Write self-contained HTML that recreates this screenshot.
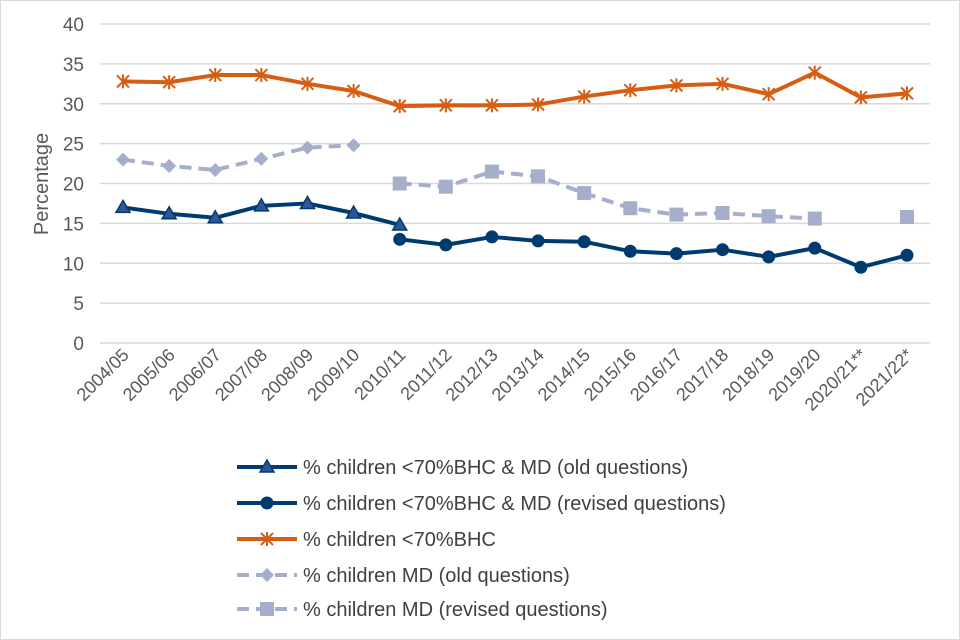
<!DOCTYPE html>
<html><head><meta charset="utf-8"><style>
body{margin:0;background:#fff}
svg{display:block;font-family:"Liberation Sans",sans-serif}
</style></head><body>
<svg id="c" width="960" height="640">
<rect x="0.5" y="0.5" width="959" height="639" fill="#fff" stroke="#d9d9d9"/>
<g id="grid"></g><g id="axes"></g><g id="series"></g><g id="legend"></g>
</svg>
<script>
const categories=["2004/05","2005/06","2006/07","2007/08","2008/09","2009/10","2010/11","2011/12","2012/13","2013/14","2014/15","2015/16","2016/17","2017/18","2018/19","2019/20","2020/21**","2021/22*"];
const yTicks=[0,5,10,15,20,25,30,35,40];
const bhc=[32.8,32.7,33.6,33.6,32.5,31.6,29.7,29.8,29.8,29.9,30.9,31.7,32.3,32.5,31.2,33.9,30.8,31.3];
const mdOld=[23.0,22.2,21.7,23.1,24.5,24.8,null,null,null,null,null,null,null,null,null,null,null,null];
const mdNew=[null,null,null,null,null,null,20.0,19.6,21.5,20.9,18.8,16.9,16.1,16.3,15.9,15.6,null,15.8];
const lowOld=[17.0,16.2,15.7,17.2,17.5,16.3,14.8,null,null,null,null,null,null,null,null,null,null,null];
const lowNew=[null,null,null,null,null,null,13.0,12.3,13.3,12.8,12.7,11.5,11.2,11.7,10.8,11.9,9.5,11.0];
const legendLabels=["% children <70%BHC & MD (old questions)","% children <70%BHC & MD (revised questions)","% children <70%BHC","% children MD (old questions)","% children MD (revised questions)"];
const NS="http://www.w3.org/2000/svg";
const x=i=>123+i*(907-123)/(categories.length-1);
const y=v=>343-v*(343-24)/40;
function mk(tag,attrs,parent){const e=document.createElementNS(NS,tag);for(const k in attrs)e.setAttribute(k,attrs[k]);parent.appendChild(e);return e;}
const G=document.getElementById('grid'),A=document.getElementById('axes'),S=document.getElementById('series'),L=document.getElementById('legend');
yTicks.forEach(t=>{
 const l=mk('line',{x1:100,x2:930,y1:y(t),y2:y(t),stroke:'#d9d9d9','stroke-width':1.5},G);
 
 
 const tx=mk('text',{x:84,y:y(t)+7,'text-anchor':'end','font-size':19,fill:'#595959'},A);
 tx.textContent=t;
 
 
});
categories.forEach((c,i)=>{
 const tx=mk('text',{x:x(i)+7,y:356,'text-anchor':'end','font-size':18,fill:'#595959',transform:`rotate(-45 ${x(i)+7} 356)`},A);
 tx.textContent=c;
 
 
});
const yt=mk('text',{x:48,y:184,'text-anchor':'middle','font-size':20,fill:'#595959',transform:'rotate(-90 48 184)'},A);
yt.textContent='Percentage';


function marker(type,cx,cy,col,g){
 if(type==='tri')return mk('path',{d:`M${cx} ${cy-7}L${cx+7} ${cy+5}L${cx-7} ${cy+5}Z`,fill:'#2e5597',stroke:col,'stroke-width':1.5},g);
 if(type==='circ')return mk('circle',{cx,cy,r:6.5,fill:col},g);
 if(type==='dia')return mk('path',{d:`M${cx} ${cy-7}L${cx+7} ${cy}L${cx} ${cy+7}L${cx-7} ${cy}Z`,fill:col},g);
 if(type==='sq')return mk('rect',{x:cx-7,y:cy-7,width:14,height:14,fill:col},g);
 if(type==='star')return mk('path',{d:`M${cx-6} ${cy-6}L${cx+6} ${cy+6}M${cx+6} ${cy-6}L${cx-6} ${cy+6}M${cx} ${cy-7}L${cx} ${cy+7}`,stroke:col,'stroke-width':2,fill:'none'},g);
}
const defs=[
 {data:lowOld,col:'#003b6f',m:'tri',dash:null,name:'series-low-income-md-old'},
 {data:lowNew,col:'#003b6f',m:'circ',dash:null,name:'series-low-income-md-revised'},
 {data:bhc,col:'#d55e14',m:'star',dash:null,name:'series-low-income-bhc'},
 {data:mdOld,col:'#a5afcc',m:'dia',dash:'12 7',name:'series-md-old'},
 {data:mdNew,col:'#a5afcc',m:'sq',dash:'12 7',name:'series-md-revised'}];
defs.forEach(s=>{
 const g=mk('g',{},S);
 
 
 let d='',pen=false;
 s.data.forEach((v,i)=>{if(v==null){pen=false;return;}d+=(pen?'L':'M')+x(i)+' '+y(v);pen=true;});
 const p=mk('path',{d,fill:'none',stroke:s.col,'stroke-width':4,'stroke-linejoin':'round'},g);
 if(s.dash)p.setAttribute('stroke-dasharray',s.dash);
 
 
 s.data.forEach((v,i)=>{if(v==null)return;const mm=marker(s.m,x(i),y(v),s.col,g);
  
  });
});
const ly=[467,503,539,575,609];
defs.forEach((s,k)=>{
 const g=mk('g',{},L);
 
 
 const l=mk('line',{x1:237,x2:297,y1:ly[k],y2:ly[k],stroke:s.col,'stroke-width':4},g);
 if(s.dash)l.setAttribute('stroke-dasharray','12 7');
 marker(s.m,267,ly[k],s.col,g);
 const t=mk('text',{x:303,y:ly[k]+7,'font-size':20,fill:'#404040'},g);
 t.textContent=legendLabels[k];
});
</script>
</body></html>
